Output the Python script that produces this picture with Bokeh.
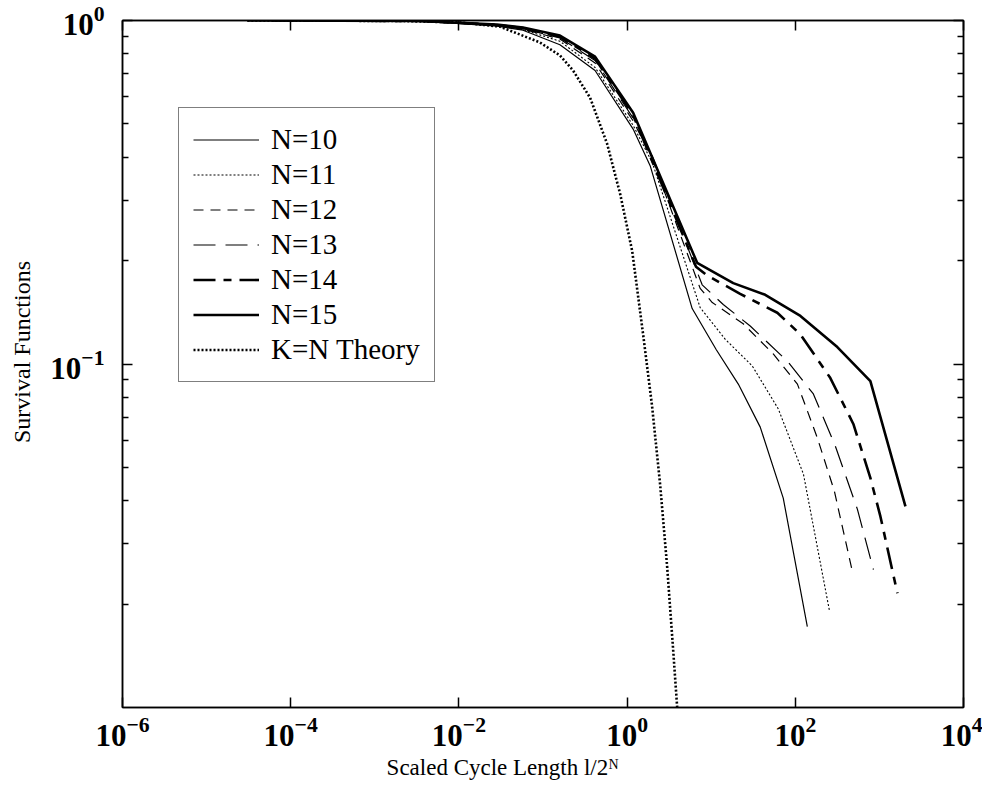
from bokeh.plotting import figure
from bokeh.models import FixedTicker, LogAxis, Legend, LegendItem, Range1d, CustomJSTickFormatter
from bokeh.embed import file_html
from bokeh.resources import INLINE

# ---- data ----
n10_x = [9.77e-4, 0.00343, 0.0283, 0.0578, 0.159, 0.416, 1.18, 1.88, 5.94, 11.5, 21.0, 38.3, 71.9, 139]
n10_y = [1.0, 0.997, 0.963, 0.937, 0.850, 0.715, 0.483, 0.378, 0.145, 0.110, 0.0874, 0.0655, 0.0407, 0.0172]

n11_x = [4.88e-4, 0.00343, 0.0283, 0.0578, 0.159, 0.416, 1.18, 2.0, 7.39, 14.7, 30.8, 62.8, 125, 254]
n11_y = [1.0, 0.997, 0.966, 0.941, 0.870, 0.730, 0.495, 0.385, 0.146, 0.118, 0.0987, 0.0740, 0.0478, 0.0192]

n12_x = [2.44e-4, 0.00343, 0.0283, 0.0578, 0.159, 0.416, 1.18, 2.0, 7.39, 10.3, 24.0, 54.7, 106, 183, 291, 477]
n12_y = [1.0, 0.997, 0.968, 0.944, 0.883, 0.752, 0.510, 0.395, 0.166, 0.151, 0.131, 0.107, 0.0874, 0.0609, 0.0427, 0.0249]

n13_x = [1.22e-4, 0.00343, 0.0283, 0.0578, 0.159, 0.416, 1.18, 2.0, 7.81, 13.9, 29.1, 80.3, 164, 299, 547, 849]
n13_y = [1.0, 0.997, 0.970, 0.947, 0.890, 0.765, 0.520, 0.402, 0.170, 0.149, 0.129, 0.102, 0.0818, 0.0577, 0.0378, 0.0252]

n14_x = [6.10e-5, 0.00343, 0.0283, 0.0578, 0.159, 0.416, 1.18, 6.6, 8.96, 22.1, 61.1, 115, 261, 490, 781, 1028, 1637]
n14_y = [1.0, 0.997, 0.972, 0.950, 0.897, 0.775, 0.530, 0.192, 0.181, 0.160, 0.141, 0.122, 0.0910, 0.0669, 0.0466, 0.0360, 0.0215]

n15_x = [3.05e-5, 0.00343, 0.0283, 0.0578, 0.159, 0.416, 1.18, 6.81, 18.3, 43.9, 115, 316, 781, 2040]
n15_y = [1.0, 0.997, 0.974, 0.954, 0.904, 0.785, 0.539, 0.197, 0.172, 0.159, 0.138, 0.112, 0.0892, 0.0385]

theory_x = [3.05e-5, 0.00199, 0.0103, 0.0308, 0.092, 0.159, 0.228, 0.363, 0.578, 0.826, 1.15, 1.55, 1.98, 2.47, 2.99, 3.53, 3.94, 4.2]
theory_y = [1.0, 0.997, 0.987, 0.960, 0.863, 0.791, 0.715, 0.596, 0.438, 0.313, 0.213, 0.122, 0.0755, 0.0446, 0.0258, 0.0147, 0.0100, 0.0085]

labels = ["N=10", "N=11", "N=12", "N=13", "N=14", "N=15", "K=N Theory"]

x_major = [1e-6, 1e-4, 1e-2, 1e0, 1e2, 1e4]
y_major = [0.1, 1.0]
y_minor = [0.02, 0.03, 0.04, 0.05, 0.06, 0.07, 0.08, 0.09,
           0.2, 0.3, 0.4, 0.5, 0.6, 0.7, 0.8, 0.9]

SERIF = "Liberation Serif"
NBSP = "\u00a0"

p = figure(width=982, height=789, x_axis_type="log", y_axis_type="log",
           x_range=Range1d(1e-6, 1e4), y_range=Range1d(0.01, 1.0),
           output_backend="svg", toolbar_location=None,
           min_border_left=122, min_border_right=19, min_border_top=20, min_border_bottom=82)
p.xgrid.visible = False
p.ygrid.visible = False
p.outline_line_color = "black"
p.outline_line_width = 1.5
p.background_fill_color = "white"
p.border_fill_color = "white"

styles = [
    dict(line_width=1.2),
    dict(line_width=1.1, line_dash="2 2"),
    dict(line_width=1.2, line_dash="10 7"),
    dict(line_width=1.2, line_dash="22 10"),
    dict(line_width=2.6, line_dash="22 8 8 8"),
    dict(line_width=2.6),
    dict(line_width=2.6, line_dash="2 2"),
]
series = [(n10_x, n10_y), (n11_x, n11_y), (n12_x, n12_y), (n13_x, n13_y),
          (n14_x, n14_y), (n15_x, n15_y), (theory_x, theory_y)]

items = []
for (xs, ys), st, lab in zip(series, styles, labels):
    r = p.line(xs, ys, line_color="black", **st)
    items.append(LegendItem(label=lab, renderers=[r]))

def style_axis(ax, show_labels, ticks, minor):
    ax.ticker = FixedTicker(ticks=ticks, minor_ticks=minor)
    ax.axis_line_color = "black"
    ax.axis_line_width = 1.5
    ax.major_tick_line_color = "black"
    ax.major_tick_line_width = 1.5
    ax.minor_tick_line_color = "black"
    ax.minor_tick_line_width = 1.5
    ax.major_tick_in = 10
    ax.major_tick_out = 0
    ax.minor_tick_in = 6
    ax.minor_tick_out = 0
    if show_labels:
        ax.major_label_text_font = SERIF
        ax.major_label_text_font_style = "bold"
        ax.major_label_text_font_size = "31px"
        ax.major_label_text_color = "black"
        ax.axis_label_text_font = SERIF
        ax.axis_label_text_font_style = "normal"
        ax.axis_label_text_font_size = "23px"
        ax.axis_label_text_color = "black"
    else:
        ax.formatter = CustomJSTickFormatter(code="return ''")
        ax.major_label_text_font_size = "6px"
        ax.major_label_standoff = 0

xa = p.xaxis[0]
ya = p.yaxis[0]
style_axis(xa, True, x_major, [])
style_axis(ya, True, y_major, y_minor)
ya.axis_label_text_font_size = "24px"
xa.axis_label = "Scaled Cycle Length l/2ᴺ" + NBSP * 14
ya.axis_label = NBSP * 4 + "Survival Functions"
xa.major_label_standoff = 9
ya.major_label_standoff = 18
xa.axis_label_standoff = 6
ya.axis_label_standoff = 12

top = LogAxis()
right = LogAxis()
style_axis(top, False, x_major, [])
style_axis(right, False, y_major, y_minor)
p.add_layout(top, "above")
p.add_layout(right, "right")

legend = Legend(items=items, location=(56, 325),
                label_text_font=SERIF, label_text_font_size="29px",
                label_text_color="black",
                glyph_width=66, glyph_height=35, label_height=35,
                label_standoff=12, spacing=0, padding=14, margin=0,
                border_line_color="black", border_line_width=1.5,
                background_fill_color="white", background_fill_alpha=1.0)
p.add_layout(legend)

open("out.html", "w").write(file_html(p, INLINE))
